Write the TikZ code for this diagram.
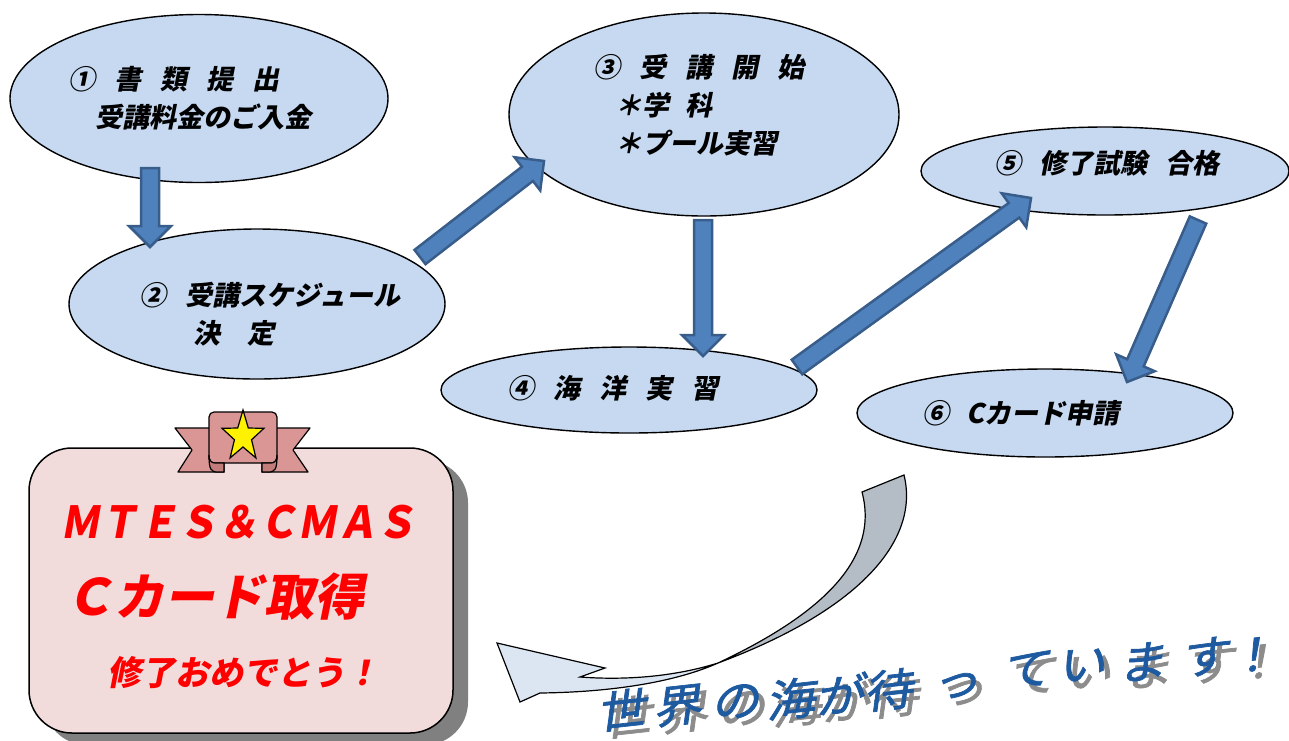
\documentclass[tikz,border=0pt]{standalone}
\usepackage{fontspec}
\usepackage{tikz}
\usetikzlibrary{calc,shapes.geometric,shadows}
\newfontfamily\jpfont{Noto Sans CJK JP}[FakeSlant=0.2]
\newfontfamily\seafont{Noto Sans CJK JP}[FakeSlant=0.25, FakeBold=1.6]
\definecolor{ovalfill}{HTML}{C6D9F1}
\definecolor{flowfill}{HTML}{4F81BD}
\definecolor{flowline}{HTML}{385D8A}
\definecolor{cardfill}{HTML}{F2DCDB}
\definecolor{cardshade}{HTML}{808080}
\definecolor{ribbonfill}{HTML}{D99694}
\definecolor{ribbonfold}{HTML}{C27C7A}
\definecolor{curlback}{HTML}{B4BCC5}
\definecolor{curlfront}{HTML}{DCE6F2}
\definecolor{seablue}{RGB}{30,90,160}
\definecolor{seashade}{HTML}{8C8C8C}
\newcommand{\jgap}{\hspace{0.7em}}
% block arrow from #1 to #2
\newcommand{\flowarrow}[2]{%
  \draw[flow] ($(#1)!9pt!90:(#2)$) -- ($(#2)!21pt!(#1)!9pt!90:(#2)$)
    -- ($(#2)!21pt!(#1)!21pt!90:(#2)$) -- (#2)
    -- ($(#2)!21pt!(#1)!21pt!-90:(#2)$) -- ($(#2)!21pt!(#1)!9pt!-90:(#2)$)
    -- ($(#1)!9pt!-90:(#2)$) -- cycle;}

\begin{document}
\begin{tikzpicture}[
        x=1pt, y=-1pt,
        stepoval/.style={ellipse, draw=black, line width=1.4pt, fill=ovalfill, inner sep=0pt},
        steptext/.style={font=\jpfont\bfseries\fontsize{27}{38}\selectfont, align=left, inner sep=0pt},
        flow/.style={fill=flowfill, draw=flowline, line width=2.5pt},
        card/.style={draw=black, line width=1.5pt, fill=cardfill, rounded corners=43pt,
            minimum width=424pt, minimum height=285pt,
            drop shadow={shadow xshift=15pt, shadow yshift=-12pt, fill=cardshade, opacity=1}},
        cardtext/.style={text=red, anchor=west, inner sep=0pt},
        ribbon/.style={draw=black, line width=1.2pt, fill=ribbonfill, line join=round},
        fold/.style={draw=black, line width=1.2pt, fill=ribbonfold},
        starfill/.style={draw=black, line width=1.2pt, fill=yellow},
        curl/.style={draw=black, line width=1.2pt},
        seatext/.style={font=\seafont\fontsize{44}{44}\selectfont, inner sep=0pt, xscale=1.12, rotate=7},
    ]
    \useasboundingbox (0,0) rectangle (1289,740);

    % steps
    \node[stepoval, minimum width=378pt, minimum height=168pt,
          label={[steptext, xshift=-9pt]center:{①\jgap 書\jgap 類\jgap 提\jgap 出\\\hspace*{1em}受講料金のご入金}}]
          (step1) at (199,98.5) {};
    \node[stepoval, minimum width=376pt, minimum height=150pt,
          label={[steptext, xshift=13pt, yshift=-10pt]center:{②\jgap 受講スケジュール\\\hspace*{2em}決　定}}]
          (step2) at (257,304) {};
    \node[stepoval, minimum width=390pt, minimum height=203pt,
          label={[steptext, xshift=-5pt, yshift=9.5pt]center:{③\jgap 受\jgap 講\jgap 開\jgap 始\\\hspace*{0.8em}＊学\hspace{0.6em}科\\\hspace*{0.8em}＊プール実習}}]
          (step3) at (704,114.5) {};
    \node[stepoval, minimum width=376pt, minimum height=86pt,
          label={[steptext, xshift=-16pt, yshift=2pt]center:{④\jgap 海\jgap 洋\jgap 実\jgap 習}}]
          (step4) at (629,390) {};
    \node[stepoval, minimum width=368pt, minimum height=88pt,
          label={[steptext, xshift=2pt, yshift=8pt]center:{⑤\hspace{0.65em}修了試験\hspace{0.65em}合格}}]
          (step5) at (1105,171) {};
    \node[stepoval, minimum width=376pt, minimum height=88pt,
          label={[steptext, xshift=-24pt]center:{⑥\hspace{0.65em}Cカード申請}}]
          (step6) at (1045,413) {};

    % arrows between the steps
    \coordinate (a1s) at ($(step1)+(-49,69.5)$);
    \coordinate (a1e) at ($(step2)+(-107,-57)$);
    \coordinate (a2s) at ($(step2)+(163,-47)$);
    \coordinate (a2e) at ($(step3)+(-160,46.5)$);
    \coordinate (a3s) at ($(step3)+(-1,105.5)$);
    \coordinate (a3e) at ($(step4)+(74,-34)$);
    \coordinate (a4s) at ($(step4)+(168,-23)$);
    \coordinate (a4e) at ($(step5)+(-74,27)$);
    \coordinate (a5s) at ($(step5)+(93,49)$);
    \coordinate (a5e) at ($(step6)+(82,-31)$);
    \flowarrow{a1s}{a1e}
    \flowarrow{a2s}{a2e}
    \flowarrow{a3s}{a3e}
    \flowarrow{a4s}{a4e}
    \flowarrow{a5s}{a5e}

    % award card
    \node[card] (award) at (241,590.5) {};
    \node[cardtext, font=\jpfont\bfseries\fontsize{44}{44}\selectfont, xscale=0.9] (award1) at (60,522) {ＭＴＥＳ＆ＣＭＡＳ};
    \node[cardtext, font=\jpfont\bfseries\fontsize{50}{50}\selectfont] (award2) at (64,597) {Ｃカード取得};
    \node[cardtext, font=\jpfont\bfseries\fontsize{34}{34}\selectfont] (award3) at (107,673) {修了おめでとう！};

    % ribbon and star
    \draw[ribbon] (214,428) -- (175,428) -- (192,450) -- (178,472) -- (224,472) -- (224,446) -- cycle;
    \draw[ribbon] (272,428) -- (310,428) -- (293,450) -- (308,472) -- (262,472) -- (262,446) -- cycle;
    \draw[ribbon, rounded corners=5pt] (209,412) rectangle (277,463);
    \draw[fold] (209,455) .. controls (209,470) and (211,472) .. (218,472) -- (224,472) -- (224,463)
        -- (215,463) .. controls (211,463) and (209,460) .. (209,455) -- cycle;
    \draw[fold] (277,455) .. controls (277,470) and (275,472) .. (268,472) -- (262,472) -- (262,463)
        -- (271,463) .. controls (275,463) and (277,460) .. (277,455) -- cycle;
    \draw[starfill, shift={(243,436.5)}] (-90:22 and 26.5)
        \foreach \a in {-90,-18,54,126,198}{ -- (\a+36:9 and 10.5) -- (\a+72:22 and 26.5)} -- cycle;

    % curved arrow
    \draw[curl, fill=curlback] (904,475) .. controls (920,540) and (860,610) .. (718,663)
        .. controls (820,615) and (880,560) .. (862,492) -- cycle;
    \draw[curl, fill=curlfront] (718,663) .. controls (670,678) and (620,680) .. (580,677)
        -- (605,668) -- (497,643) -- (520,702) -- (540,693)
        .. controls (620,692) and (680,680) .. (718,663) -- cycle;

    % slogan
    \foreach \c/\x/\y [count=\i] in {世/620/710, 界/676/706, の/734/702, 海/789/699, が/838/694,
            待/887/690, っ/955/686, て/1025/670, い/1080/665, ま/1140/662, す/1203/657, ！/1250/655}{
        \node[seatext, text=seashade] (shade\i) at (\x+6,\y+7) {\c};
        \node[seatext, text=seablue] (sea\i) at (\x,\y) {\c};
    }
\end{tikzpicture}
\end{document}
